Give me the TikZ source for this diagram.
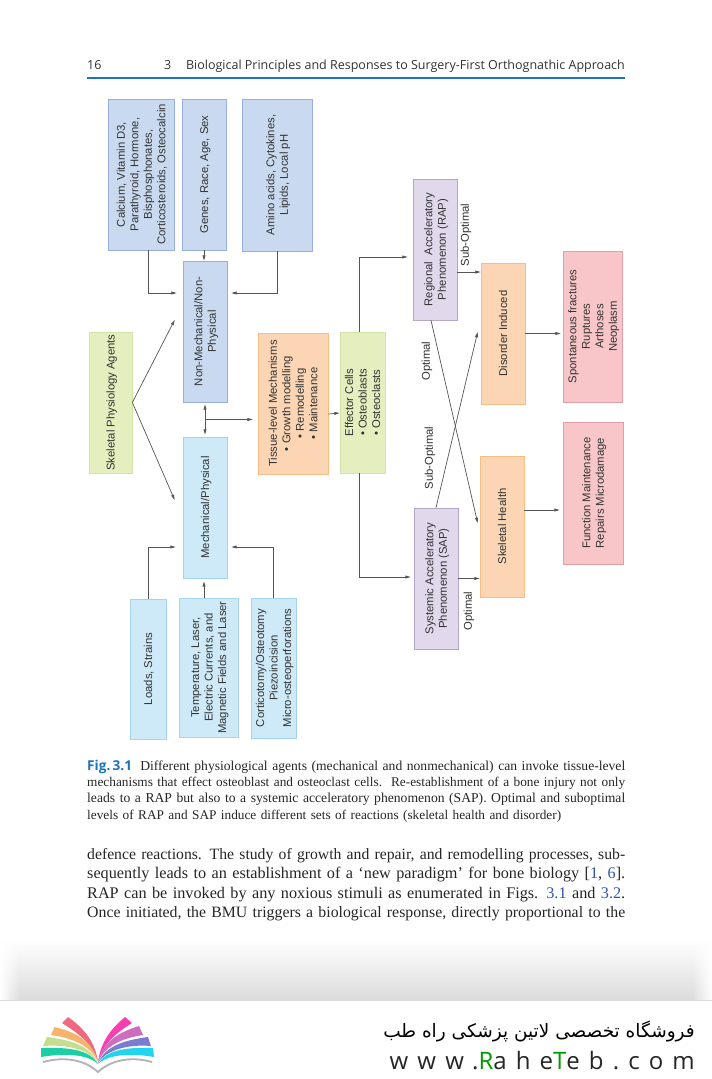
\documentclass[tikz,border=0pt]{standalone}
\usepackage{fontspec}
\setmainfont{Liberation Serif}
\setsansfont{Liberation Sans}
\newfontfamily\headfont{Open Sans}
\newfontfamily\arabicfont[Script=Arabic]{DejaVu Sans}
\newfontfamily\webfont[LetterSpace=38]{Open Sans}
\TeXXeTstate=1
\usetikzlibrary{arrows.meta}
\usetikzlibrary{fadings}

\definecolor{rule}{HTML}{1B75BB}
\definecolor{refblue}{HTML}{2F55A4}
\definecolor{linkgray}{HTML}{555555}
\definecolor{leafA}{HTML}{F0697F}
\definecolor{leafB}{HTML}{F7B26B}
\definecolor{leafC}{HTML}{C4DE8F}
\definecolor{leafD}{HTML}{1ACFA2}
\definecolor{leafE}{HTML}{F93FB0}
\definecolor{leafF}{HTML}{CE6CC0}
\definecolor{leafG}{HTML}{7B7CCF}
\definecolor{leafH}{HTML}{1FD5F0}

\newcommand{\turned}[1]{\hspace{3pt}\rotatebox{90}{\fontsize{11.3}{13.5}\selectfont\begin{tabular}{@{}c@{}}#1\end{tabular}}}
\newcommand{\fullline}[1]{\hbox{\resizebox{538pt}{!}{#1}}}

\tikzset{
	tip/.tip={Triangle[angle=30:5.5pt]},
	box/.style={draw, line width=.7pt, inner sep=0pt, font=\sffamily, text=black!80},
	nonmechbox/.style={box, fill={rgb,255:red,201;green,218;blue,240}, draw={rgb,255:red,150;green,175;blue,220}},
	mechbox/.style={box, fill={rgb,255:red,206;green,234;blue,248}, draw={rgb,255:red,165;green,212;blue,236}},
	greenbox/.style={box, fill={rgb,255:red,228;green,238;blue,190}, draw={rgb,255:red,214;green,227;blue,168}},
	orangebox/.style={box, fill={rgb,255:red,252;green,213;blue,181}, draw={rgb,255:red,246;green,190;blue,130}},
	purplebox/.style={box, fill={rgb,255:red,225;green,216;blue,236}, draw={rgb,255:red,180;green,165;blue,205}},
	pinkbox/.style={box, fill={rgb,255:red,248;green,198;blue,200}, draw={rgb,255:red,225;green,160;blue,168}},
	tag/.style={rotate=90, inner sep=0pt, font=\sffamily\fontsize{11.3}{12}\selectfont, text=black!80},
	link/.style={draw=linkgray, line width=.7pt},
	prose/.style={anchor=north west, inner sep=0pt, text width=538pt, text=black!85}
}

\begin{document}
\begin{tikzpicture}[x=1pt, y=-1pt, arrows={-tip}]
	\useasboundingbox (0,0) rectangle (712,1079);
	\fill[white] (0,0) rectangle (712,1079);

	% page head
	\node[anchor=base west, inner sep=0pt, font=\headfont\fontsize{12.5}{15}\selectfont, text=black!80] (pageno) at (87,69) {16};
	\node[anchor=base west, inner sep=0pt, font=\headfont\fontsize{12.5}{15}\selectfont, text=black!80] (chapno) at (164,69) {3};
	\node[anchor=base east, inner sep=0pt, font=\headfont\fontsize{12.5}{15}\selectfont, text=black!80] (chaptitle) at (625,69) {Biological Principles and Responses to Surgery-First Orthognathic Approach};
	\draw[-, rule, line width=1.3pt] (pageno.west |- 0,78) coordinate (ruleL) -- (chaptitle.east |- ruleL);

	% boxes
	\node[nonmechbox, minimum width=66pt, minimum height=151pt] (calcium) at (141,174.5) {\turned{Calcium, Vitamin D3,\\Parathyroid, Hormone,\\Bisphosphonates,\\Corticosteroids, Osteocalcin}};
	\node[nonmechbox, minimum width=44pt, minimum height=151pt] (genes) at (204,174.5) {\turned{Genes, Race, Age, Sex}};
	\node[nonmechbox, minimum width=70pt, minimum height=152pt] (amino) at (277,175) {\turned{Amino acids, Cytokines,\\Lipids, Local pH}};
	\node[nonmechbox, minimum width=44pt, minimum height=141pt] (nonmech) at (205,331.5) {\turned{Non-Mechanical/Non-\\Physical}};
	\node[greenbox, minimum width=43pt, minimum height=141pt] (agents) at (110.5,402.5) {\turned{Skeletal Physiology Agents}};
	\node[mechbox, minimum width=44pt, minimum height=141pt] (mech) at (205,507.5) {\turned{Mechanical/Physical}};
	\node[mechbox, minimum width=36pt, minimum height=140pt] (loads) at (148,669) {\turned{Loads, Strains}};
	\node[mechbox, minimum width=59pt, minimum height=139pt] (temp) at (208.5,667.5) {\turned{Temperature, Laser,\\Electric Currents, and\\Magnetic Fields and Laser}};
	\node[mechbox, minimum width=45pt, minimum height=140pt] (cortico) at (273.5,668) {\turned{Corticotomy/Osteotomy\\Piezoincision\\Micro-osteoperforations}};
	\node[orangebox, minimum width=70pt, minimum height=141pt] (tissue) at (293,403.5) {\turned{Tissue-level Mechanisms\\\textbullet{} Growth modelling\\\textbullet{} Remodelling\\\textbullet{} Maintenance}};
	\node[greenbox, minimum width=45pt, minimum height=141pt] (effector) at (362.5,402.5) {\turned{Effector Cells\\\textbullet{} Osteoblasts\\\textbullet{} Osteoclasts}};
	\node[purplebox, minimum width=44pt, minimum height=141pt] (rap) at (435,249.5) {\turned{Regional~ Acceleratory\\Phenomenon (RAP)}};
	\node[purplebox, minimum width=44pt, minimum height=141pt] (sap) at (436,578.5) {\turned{Systemic Acceleratory\\Phenomenon (SAP)}};
	\node[orangebox, minimum width=44pt, minimum height=141pt] (disorder) at (503,333.5) {\turned{Disorder Induced}};
	\node[orangebox, minimum width=44pt, minimum height=141pt] (health) at (502,526.5) {\turned{Skeletal Health}};
	\node[pinkbox, minimum width=59pt, minimum height=151pt] (spont) at (592.5,326.5) {\turned{Spontaneous fractures\\Ruptures\\Arthoses\\Neoplasm}};
	\node[pinkbox, minimum width=60pt, minimum height=142pt] (function) at (593,493) {\turned{Function Maintenance\\Repairs Microdamage}};

	% connectors
	\draw[link, shorten >=6pt] ([xshift=7pt]calcium.south) |- ([yshift=38.5pt]nonmech.west);
	\draw[link] (genes.south) -- (genes.south |- nonmech.north);
	\draw[link, shorten >=4pt] (amino.south) |- ([yshift=38.5pt]nonmech.east);
	\draw[link] (agents.east) -- ([xshift=-8pt,yshift=11.5pt]nonmech.west);
	\draw[link] (agents.east) -- ([xshift=-8pt,yshift=7.5pt]mech.west);
	\draw[link, tip-tip, shorten <=2pt, shorten >=2pt] (nonmech.south) -- coordinate (fork) (mech.north);
	\draw[link, shorten >=5pt] (fork) -- (fork -| tissue.west);
	\draw[link] ([yshift=-10.5pt]tissue.east) -- ([yshift=-10.5pt]effector.west);
	\draw[link, shorten >=5pt] ([xshift=-3.5pt]effector.north) |- ([yshift=-7.5pt]rap.west);
	\draw[link, shorten >=3pt] ([xshift=-3.5pt]effector.south) |- ([yshift=1.5pt]sap.west);
	\draw[link, shorten >=7pt] (loads.north) |- ([yshift=-39.5pt]mech.west);
	\draw[link, shorten >=3pt] ([xshift=-4.5pt]temp.north) -- ([xshift=-1pt]mech.south);
	\draw[link, shorten >=4pt] (cortico.north) |- ([yshift=-39.5pt]mech.east);
	\draw[link] ([yshift=-22.5pt]rap.east) -- ([yshift=61.5pt]disorder.west);
	\draw[link] ([xshift=-4pt]rap.south) -- ([xshift=-2pt,yshift=3.5pt]health.west);
	\draw[link] (sap.north) -- ([xshift=-3pt,yshift=1.5pt]disorder.west);
	\draw[link] (sap.east) -- (sap.east -| health.west);
	\draw[link, shorten >=2pt] (disorder.east) -- (disorder.east -| spont.west);
	\draw[link, shorten >=3pt] ([yshift=16.5pt]health.east) -- ([yshift=-17pt]function.west);

	% connector labels
	\node[tag] (subrap) at (466,235) {Sub-Optimal};
	\node[tag] (optrap) at (427,361) {Optimal};
	\node[tag] (subsap) at (430,458) {Sub-Optimal};
	\node[tag] (optsap) at (469,611) {Optimal};

	% caption and text
	\node[prose, font=\fontsize{13.3}{16.2}\selectfont] (caption) at (87,760) {
		\fullline{\mbox{\headfont\bfseries\fontsize{13.3}{16}\selectfont\color{rule}Fig.\,3.1}\hspace{8pt}Different physiological agents (mechanical and nonmechanical) can invoke tissue-level}
		\hbox to 538pt{mechanisms that effect osteoblast and osteoclast cells.\hfill Re-establishment of a bone injury not only}
		\fullline{leads to a RAP but also to a systemic acceleratory phenomenon (SAP). Optimal and suboptimal}
		\hbox{levels of RAP and SAP induce different sets of reactions (skeletal health and disorder)}};
	\node[prose, font=\fontsize{15.7}{19.5}\selectfont] (bodytext) at (87,848) {
		\fullline{defence reactions. The study of growth and repair, and remodelling processes, sub-}
		\fullline{sequently leads to an establishment of a `new paradigm' for bone biology [{\color{refblue}1}, {\color{refblue}6}].}
		\fullline{RAP can be invoked by any noxious stimuli as enumerated in Figs. {\color{refblue}3.1} and {\color{refblue}3.2}.}
		\fullline{Once initiated, the BMU triggers a biological response, directly proportional to the}};

	% footer band
	\shade[top color=white, bottom color=black!14] (0,940) rectangle (712,1000);
	\fill[white, path fading=east] (0,930) rectangle (20,1000);
	\fill[white, path fading=west] (692,930) rectangle (712,1000);

	% logo
	\fill[-, leafA] (98,1062) .. controls (95,1040) and (82,1027) .. (68,1017) -- (62,1023) .. controls (78,1033) and (93,1044) .. (98,1062);
	\fill[-, leafB] (98,1062) .. controls (92,1040) and (75,1032) .. (54.5,1027) -- (51,1035) .. controls (73,1038) and (91,1046) .. (98,1062);
	\fill[-, leafC] (98,1063) .. controls (90,1045) and (70,1040) .. (47,1037) -- (43,1046) .. controls (68,1044) and (90,1050) .. (98,1063);
	\fill[-, leafD] (98,1064) .. controls (90,1050) and (70,1047) .. (41,1048) -- (41,1057) .. controls (70,1052) and (90,1056) .. (98,1064);
	\fill[-, leafE] (98,1062) .. controls (101,1040) and (113,1027) .. (125,1017) -- (132,1023) .. controls (116,1033) and (103,1044) .. (98,1062);
	\fill[-, leafF] (98,1062) .. controls (104,1040) and (120,1032) .. (139,1026) -- (143,1035) .. controls (122,1038) and (105,1046) .. (98,1062);
	\fill[-, leafG] (98,1063) .. controls (106,1045) and (126,1040) .. (148,1037) -- (151,1046) .. controls (128,1044) and (106,1050) .. (98,1063);
	\fill[-, leafH] (98,1064) .. controls (106,1050) and (126,1047) .. (153,1048) -- (154,1057) .. controls (126,1052) and (106,1056) .. (98,1064);
	\draw[-, black!30, line width=1.8pt] (43,1062) .. controls (65,1056) and (85,1060) .. (98,1072) .. controls (111,1060) and (131,1056) .. (152,1062);

	% shop name
	\node[anchor=east, inner sep=0pt, font=\arabicfont\fontsize{18.5}{20}\selectfont] (shop) at (695,1031) {\beginR فروشگاه تخصصی لاتین پزشکی  راه طب\endR};
	\node[anchor=east, inner sep=0pt, font=\webfont\fontsize{24}{26}\selectfont, text=black!85] (site) at (695,1061) {www.{\color{green!60!black}R}ahe{\color{green!60!black}T}eb.com};
\end{tikzpicture}
\end{document}
